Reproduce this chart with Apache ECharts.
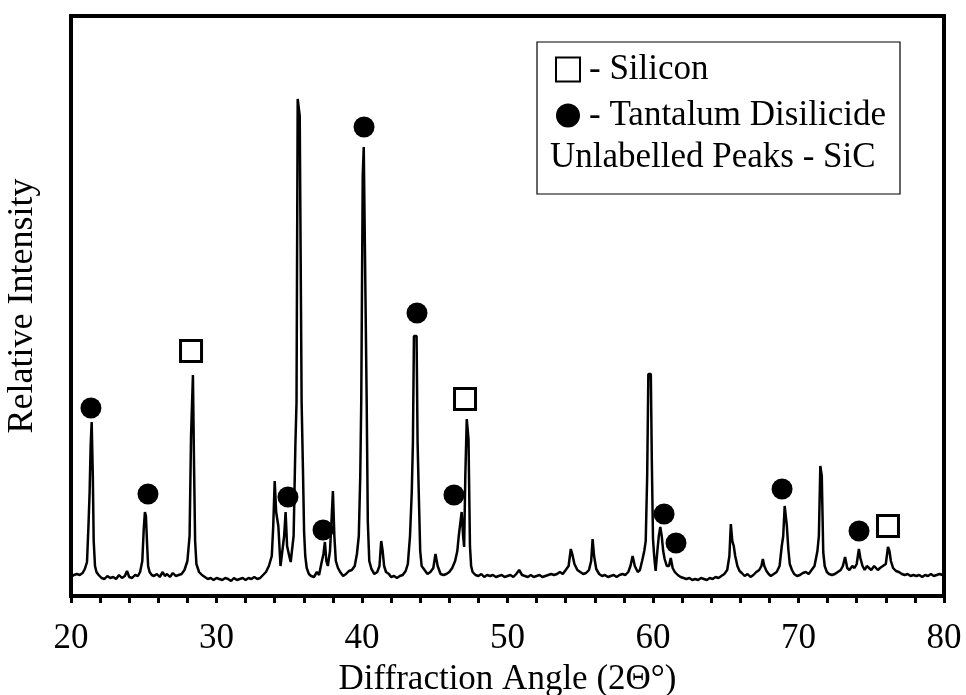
<!DOCTYPE html>
<html lang="en">
<head>
    <meta charset="UTF-8">
    <title>xrd</title>
    <script src="https://cdn.jsdelivr.net/npm/echarts@6/dist/echarts.min.js"></script>
    <style>
        body { margin: 0; background: #fff; }
    </style>
</head>
<body>
<div id="main" style="width: 966px;height:695px;"></div>
<script>
    // scan: [2theta, intensity]
    var scan = [
        [20.0,19],[20.2,21],[20.4,22],[20.6,21],[20.8,23],[20.95,27],[21.1,34],[21.2,70],[21.28,104],[21.35,150],[21.42,174],[21.5,120],[21.56,55],[21.65,30],[21.75,24],[21.9,21],
        [22.1,18],[22.3,17],[22.5,20],[22.7,18],[22.9,19],[23.1,17],[23.3,21],[23.5,18],[23.7,20],[23.85,25],[24.0,19],[24.2,18],[24.4,21],[24.6,20],[24.75,24],[24.9,35],[25.0,67],[25.08,84],[25.15,80],[25.22,55],[25.3,30],[25.4,24],[25.55,21],
        [25.7,20],[25.9,22],[26.1,19],[26.3,24],[26.45,20],[26.6,22],[26.8,19],[27.0,23],[27.2,20],[27.4,21],[27.6,22],[27.8,26],[28.0,35],[28.15,60],[28.25,160],[28.38,221],[28.46,127],[28.53,55],[28.62,32],[28.8,24],[29.0,21],
        [29.2,19],[29.4,17],[29.6,18],[29.8,16],[30.0,18],[30.2,17],[30.4,16],[30.6,18],[30.8,17],[31.0,15],[31.2,18],[31.4,16],[31.6,17],[31.8,18],[32.0,16],[32.2,18],[32.4,17],[32.6,19],[32.8,17],[33.0,18],[33.2,21],[33.4,24],[33.6,30],[33.8,40],
        [33.9,70],[34.0,115],[34.1,84],[34.25,70],[34.4,30],[34.5,28],[34.65,60],[34.75,84],[34.85,50],[35.0,40],[35.1,34],[35.3,60],[35.42,150],[35.5,194],[35.58,497],[35.72,480],[35.85,194],[35.95,120],[36.02,64],[36.1,40],[36.2,28],[36.35,22],
        [36.5,20],[36.7,19],[36.9,24],[37.05,21],[37.2,32],[37.35,42],[37.45,54],[37.55,35],[37.65,30],[37.8,45],[37.92,80],[38.0,105],[38.1,60],[38.2,35],[38.35,28],[38.5,24],[38.7,20],[38.9,22],[39.1,25],[39.3,26],[39.5,30],
        [39.65,42],[39.78,60],[39.88,120],[39.95,197],[40.05,420],[40.12,449],[40.25,449],[40.32,197],[40.4,74],[40.5,35],[40.65,27],[40.85,22],[41.05,24],[41.2,30],[41.32,55],[41.42,45],[41.52,30],[41.65,24],[41.85,22],
        [42.0,19],[42.2,20],[42.4,18],[42.6,20],[42.8,21],[43.0,25],[43.15,32],[43.3,60],[43.42,104],[43.5,154],[43.57,260],[43.75,260],[43.82,154],[43.9,104],[44.0,45],[44.1,30],[44.3,26],[44.5,22],[44.7,24],[44.9,28],[45.05,42],[45.2,30],[45.4,22],[45.6,21],[45.8,22],[46.0,24],[46.2,28],[46.4,35],[46.55,45],[46.65,60],[46.85,84],[46.95,60],[47.02,49],[47.1,120],[47.2,177],[47.32,157],[47.42,50],[47.5,30],[47.6,24],
        [47.8,21],[48.0,20],[48.2,22],[48.4,19],[48.6,21],[48.8,20],[49.0,21],[49.2,19],[49.4,20],[49.6,21],[49.8,19],[50.0,20],[50.2,21],[50.4,19],[50.6,22],[50.8,26],[51.0,21],[51.2,20],[51.4,19],[51.6,21],[51.8,19],[52.0,20],[52.2,21],[52.4,19],[52.6,20],[52.8,21],[53.0,22],[53.2,21],[53.4,22],[53.6,24],[53.8,22],[54.0,26],[54.2,30],[54.35,47],[54.45,42],[54.6,32],[54.8,26],[55.0,24],[55.2,22],[55.4,23],[55.6,26],[55.75,35],[55.85,57],[55.95,40],[56.1,27],[56.3,22],[56.5,20],[56.7,21],[56.9,19],[57.1,20],[57.3,21],[57.5,19],[57.7,21],[57.9,22],[58.1,21],[58.3,24],[58.45,30],[58.6,40],[58.75,30],[58.95,24],[59.1,26],
        [59.25,35],[59.4,45],[59.5,55],[59.6,120],[59.68,222],[59.85,222],[59.92,134],[60.0,57],[60.08,40],[60.18,25],[60.3,45],[60.4,60],[60.5,69],[60.6,60],[60.7,45],[60.8,37],[60.95,30],[61.1,30],[61.22,38],[61.35,28],[61.5,24],[61.7,21],
        [61.9,19],[62.1,18],[62.3,17],[62.5,18],[62.7,16],[62.9,17],[63.1,16],[63.3,18],[63.5,17],[63.7,16],[63.9,18],[64.1,17],[64.3,19],[64.5,18],[64.7,20],[64.9,22],[65.1,26],[65.25,40],[65.35,72],[65.45,55],[65.55,50],[65.65,40],[65.8,30],[65.95,25],[66.1,23],[66.3,20],[66.5,22],[66.7,19],[66.9,21],[67.1,24],[67.3,26],[67.45,30],[67.55,37],[67.65,30],[67.8,25],[67.95,22],[68.1,20],[68.3,22],[68.5,24],[68.7,30],[68.85,50],[68.95,60],[69.05,90],[69.12,90],[69.2,70],[69.3,47],[69.4,32],[69.55,26],[69.7,22],[69.9,20],
        [70.1,21],[70.3,23],[70.5,24],[70.7,22],[70.9,26],[71.1,30],[71.3,45],[71.4,60],[71.5,130],[71.6,120],[71.7,44],[71.8,30],[71.95,24],[72.1,22],[72.3,21],[72.5,22],[72.7,24],[72.9,26],[73.05,30],[73.2,39],[73.35,28],[73.5,26],[73.7,30],[73.85,28],[74.0,32],[74.15,47],[74.25,38],[74.4,30],[74.55,26],[74.7,30],[74.85,28],[75.0,26],[75.2,30],[75.3,32],[75.45,26],[75.6,28],[75.8,30],[76.0,32],[76.15,49],[76.25,45],[76.35,35],[76.5,28],[76.7,25],[76.9,24],
        [77.1,22],[77.3,21],[77.5,22],[77.7,20],[77.9,21],[78.1,20],[78.3,21],[78.5,19],[78.7,21],[78.9,20],[79.1,22],[79.3,20],[79.5,21],[79.7,22],[79.9,21],[80.0,22]
    ];

    // peak markers [2theta, height of marker]
    var siliconPeaks = [[28.25,245],[47.08,197],[76.15,70]];
    var taSi2Peaks = [[21.37,188],[25.29,102],[34.91,99],[37.32,66],[40.14,469],[43.78,283],[46.32,101],[60.76,82],[61.58,53],[68.87,107],[74.16,65]];

    var siliconName = '- Silicon';
    var taSi2Name = '- Tantalum Disilicide';
    var sicNote = 'Unlabelled Peaks - SiC';

    var serif = 'Liberation Serif';
    var myChart = echarts.init(document.getElementById('main'));

    var option = {
        animation: false,
        backgroundColor: '#fff',
        grid: {
            left: 71,
            right: 22,
            top: 16,
            bottom: 99,
            show: true,
            borderColor: '#000',
            borderWidth: 4,
            outerBoundsMode: 'none'
        },
        legend: {
            orient: 'vertical',
            left: 550,
            top: 47,
            itemGap: 11,
            itemWidth: 24,
            itemHeight: 24,
            data: [siliconName, taSi2Name],
            textStyle: {
                fontFamily: serif,
                fontSize: 35,
                color: '#000',
                padding: [0, 0, 0, 4]
            }
        },
        graphic: [
            {
                type: 'rect',
                shape: {x: 537, y: 42, width: 363, height: 152},
                style: {fill: 'none', stroke: '#000', lineWidth: 1.2},
                z: 100
            },
            {
                type: 'text',
                x: 550,
                y: 158,
                style: {
                    text: sicNote,
                    fontFamily: serif,
                    fontSize: 35,
                    fill: '#000',
                    verticalAlign: 'middle'
                },
                z: 100
            }
        ],
        xAxis: {
            type: 'value',
            min: 20,
            max: 80,
            interval: 10,
            name: 'Diffraction Angle (2\u0398\u00b0)',
            nameLocation: 'middle',
            nameGap: 66,
            nameTextStyle: {fontFamily: serif, fontSize: 35, color: '#000'},
            axisLine: {show: true, lineStyle: {color: '#000', width: 4}},
            axisTick: {show: true, inside: false, length: 7, lineStyle: {color: '#000', width: 3}},
            minorTick: {show: true, splitNumber: 5, length: 7, lineStyle: {color: '#000', width: 3}},
            axisLabel: {fontFamily: serif, fontSize: 35, color: '#000', margin: 25},
            splitLine: {show: false}
        },
        yAxis: {
            type: 'value',
            min: 0,
            max: 580,
            name: 'Relative Intensity',
            nameLocation: 'middle',
            nameGap: 30,
            nameTextStyle: {fontFamily: serif, fontSize: 36, color: '#000'},
            axisLine: {show: true, lineStyle: {color: '#000', width: 4}},
            axisTick: {show: false},
            axisLabel: {show: false},
            splitLine: {show: false}
        },
        series: [
            {
                name: 'SiC',
                type: 'line',
                data: scan,
                showSymbol: false,
                lineStyle: {color: '#000', width: 2.5},
                z: 2
            },
            {
                name: siliconName,
                type: 'scatter',
                data: siliconPeaks,
                symbol: 'rect',
                symbolSize: 21,
                itemStyle: {color: '#fff', borderColor: '#000', borderWidth: 3, opacity: 1},
                z: 5
            },
            {
                name: taSi2Name,
                type: 'scatter',
                data: taSi2Peaks,
                symbol: 'circle',
                symbolSize: 21,
                itemStyle: {color: '#000', opacity: 1},
                z: 5
            }
        ]
    };
    myChart.setOption(option);
</script>
</body>
</html>
